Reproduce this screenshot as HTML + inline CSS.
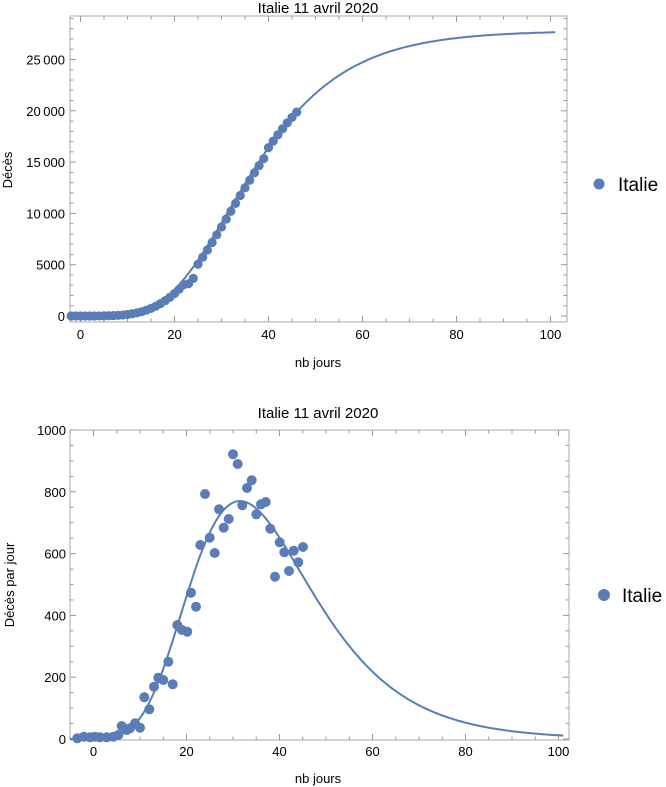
<!DOCTYPE html>
<html><head><meta charset="utf-8"><style>
body{margin:0;background:#fff;}
svg{display:block;font-family:"Liberation Sans",sans-serif;}
</style></head><body>
<svg id="s" width="666" height="787" xmlns="http://www.w3.org/2000/svg">
<g id="g"></g>
<text x="318" y="13" font-size="15" text-anchor="middle">Italie 11 avril 2020</text>
<text x="318" y="367" font-size="13" text-anchor="middle">nb jours</text>
<text transform="translate(12,170) rotate(-90)" font-size="13" text-anchor="middle">Décès</text>
<circle cx="599" cy="184" r="5.5" fill="#5a7db8"/>
<text x="618" y="191" font-size="19">Italie</text>
<text x="318" y="418" font-size="15" text-anchor="middle">Italie 11 avril 2020</text>
<text x="318" y="783" font-size="13" text-anchor="middle">nb jours</text>
<text transform="translate(14,585) rotate(-90)" font-size="13" text-anchor="middle">Décès par jour</text>
<circle cx="604" cy="595" r="6" fill="#5a7db8"/>
<text x="622" y="602" font-size="19">Italie</text>
</svg>
<script>
var g=document.getElementById('g'),NS='http://www.w3.org/2000/svg',h='';
var C='#5a7db8';
function tx(x,y,t,a){h+='<text x="'+x+'" y="'+y+'" font-size="13" text-anchor="'+a+'">'+t+'</text>';}
function ln(x1,y1,x2,y2,c,w){h+='<line x1="'+x1+'" y1="'+y1+'" x2="'+x2+'" y2="'+y2+'" stroke="'+(c||'#999')+'" stroke-width="'+(w||1)+'"/>';}
var K=27800,c=0.0753,t0=31.5;
function G(t){return K*Math.exp(-Math.exp(-c*(t-t0)));}
function D(t){var u=c*(t-t0);return K*c*Math.exp(-u)*Math.exp(-Math.exp(-u));}
// top chart
var L=70,R=567,T=16,B=322;
function X1(t){return 80.5+t*4.7;} function Y1(v){return 316-v*0.01026;}
h+='<rect x="'+L+'" y="'+T+'" width="'+(R-L)+'" height="'+(B-T)+'" fill="none" stroke="#aaa"/>';
for(var t=0;t<=100;t+=5){var x=X1(t),m=t%20==0;ln(x,B,x,B-(m?6:3.5));ln(x,T,x,T+(m?6:3.5));if(m)tx(x,339,t,'middle');}
for(var v=0;v<=29000;v+=1000){var y=Y1(v),m=v%5000==0;if(y<T)continue;ln(L,y,L+(m?6:3.5),y);ln(R,y,R-(m?6:3.5),y);if(m)tx(L-5,y+5,v==0?'0':(v>=10000?(v/1000|0)+'\u2009000':v),'end');}
var p='';for(var t=-2;t<=101;t+=0.5)p+=(p?'L':'M')+X1(t).toFixed(1)+','+Y1(G(t)).toFixed(1);
h+='<path d="'+p+'" fill="none" stroke="'+C+'" stroke-width="2"/>';
for(var t=-2;t<=46;t++){var v=G(t)*(t<25?0.85:1)-(t>22&&t<40?400:0);if(v<0)v=0;h+='<circle cx="'+X1(t)+'" cy="'+Y1(v)+'" r="4.6" fill="'+C+'"/>';}
// bottom chart
L=70;R=569;T=430;B=740;
function X2(t){return 93.5+t*4.65;} function Y2(v){return 739-v*0.309;}
h+='<rect x="'+L+'" y="'+T+'" width="'+(R-L)+'" height="'+(B-T)+'" fill="none" stroke="#aaa"/>';
for(var t=-5;t<=100;t+=5){var x=X2(t),m=t%20==0;if(x<L)continue;ln(x,B,x,B-(m?6:3.5));ln(x,T,x,T+(m?6:3.5));if(m)tx(x,756,t,'middle');}
for(var v=0;v<=1000;v+=50){var y=Y2(v),m=v%200==0;ln(L,y,L+(m?6:3.5),y);ln(R,y,R-(m?6:3.5),y);if(m)tx(L-4,y+5,v,'end');}
p='';for(var t=-5;t<=101;t+=0.5)p+=(p?'L':'M')+X2(t).toFixed(1)+','+Y2(D(t)).toFixed(1);
h+='<path d="'+p+'" fill="none" stroke="'+C+'" stroke-width="2"/>';
var pts=[[232,1015],[252,1010],[270,1012],[285,1010],[300,1012],[320,1012],[340,1010],[355,1005],[365,978],[380,990],[390,985],[405,970],[420,983],[433,892],[448,928],[462,860],[475,833],[490,840],[505,785],[518,853],[532,675],[546,690],[562,695],[573,578],[588,620],[601,435],[615,282],[629,413],[644,459],[657,328],[671,383],[686,357],[699,163],[713,192],[727,316],[741,264],[755,241],[769,343],[783,313],[797,306],[811,386],[825,530],[839,427],[853,457],[867,513],[881,452],[895,487],[909,441]];
pts.forEach(function(q){h+='<circle cx="'+(q[0]/3).toFixed(1)+'" cy="'+(400+q[1]/3).toFixed(1)+'" r="5" fill="'+C+'"/>';});
g.innerHTML=h;
</script>
</body></html>
